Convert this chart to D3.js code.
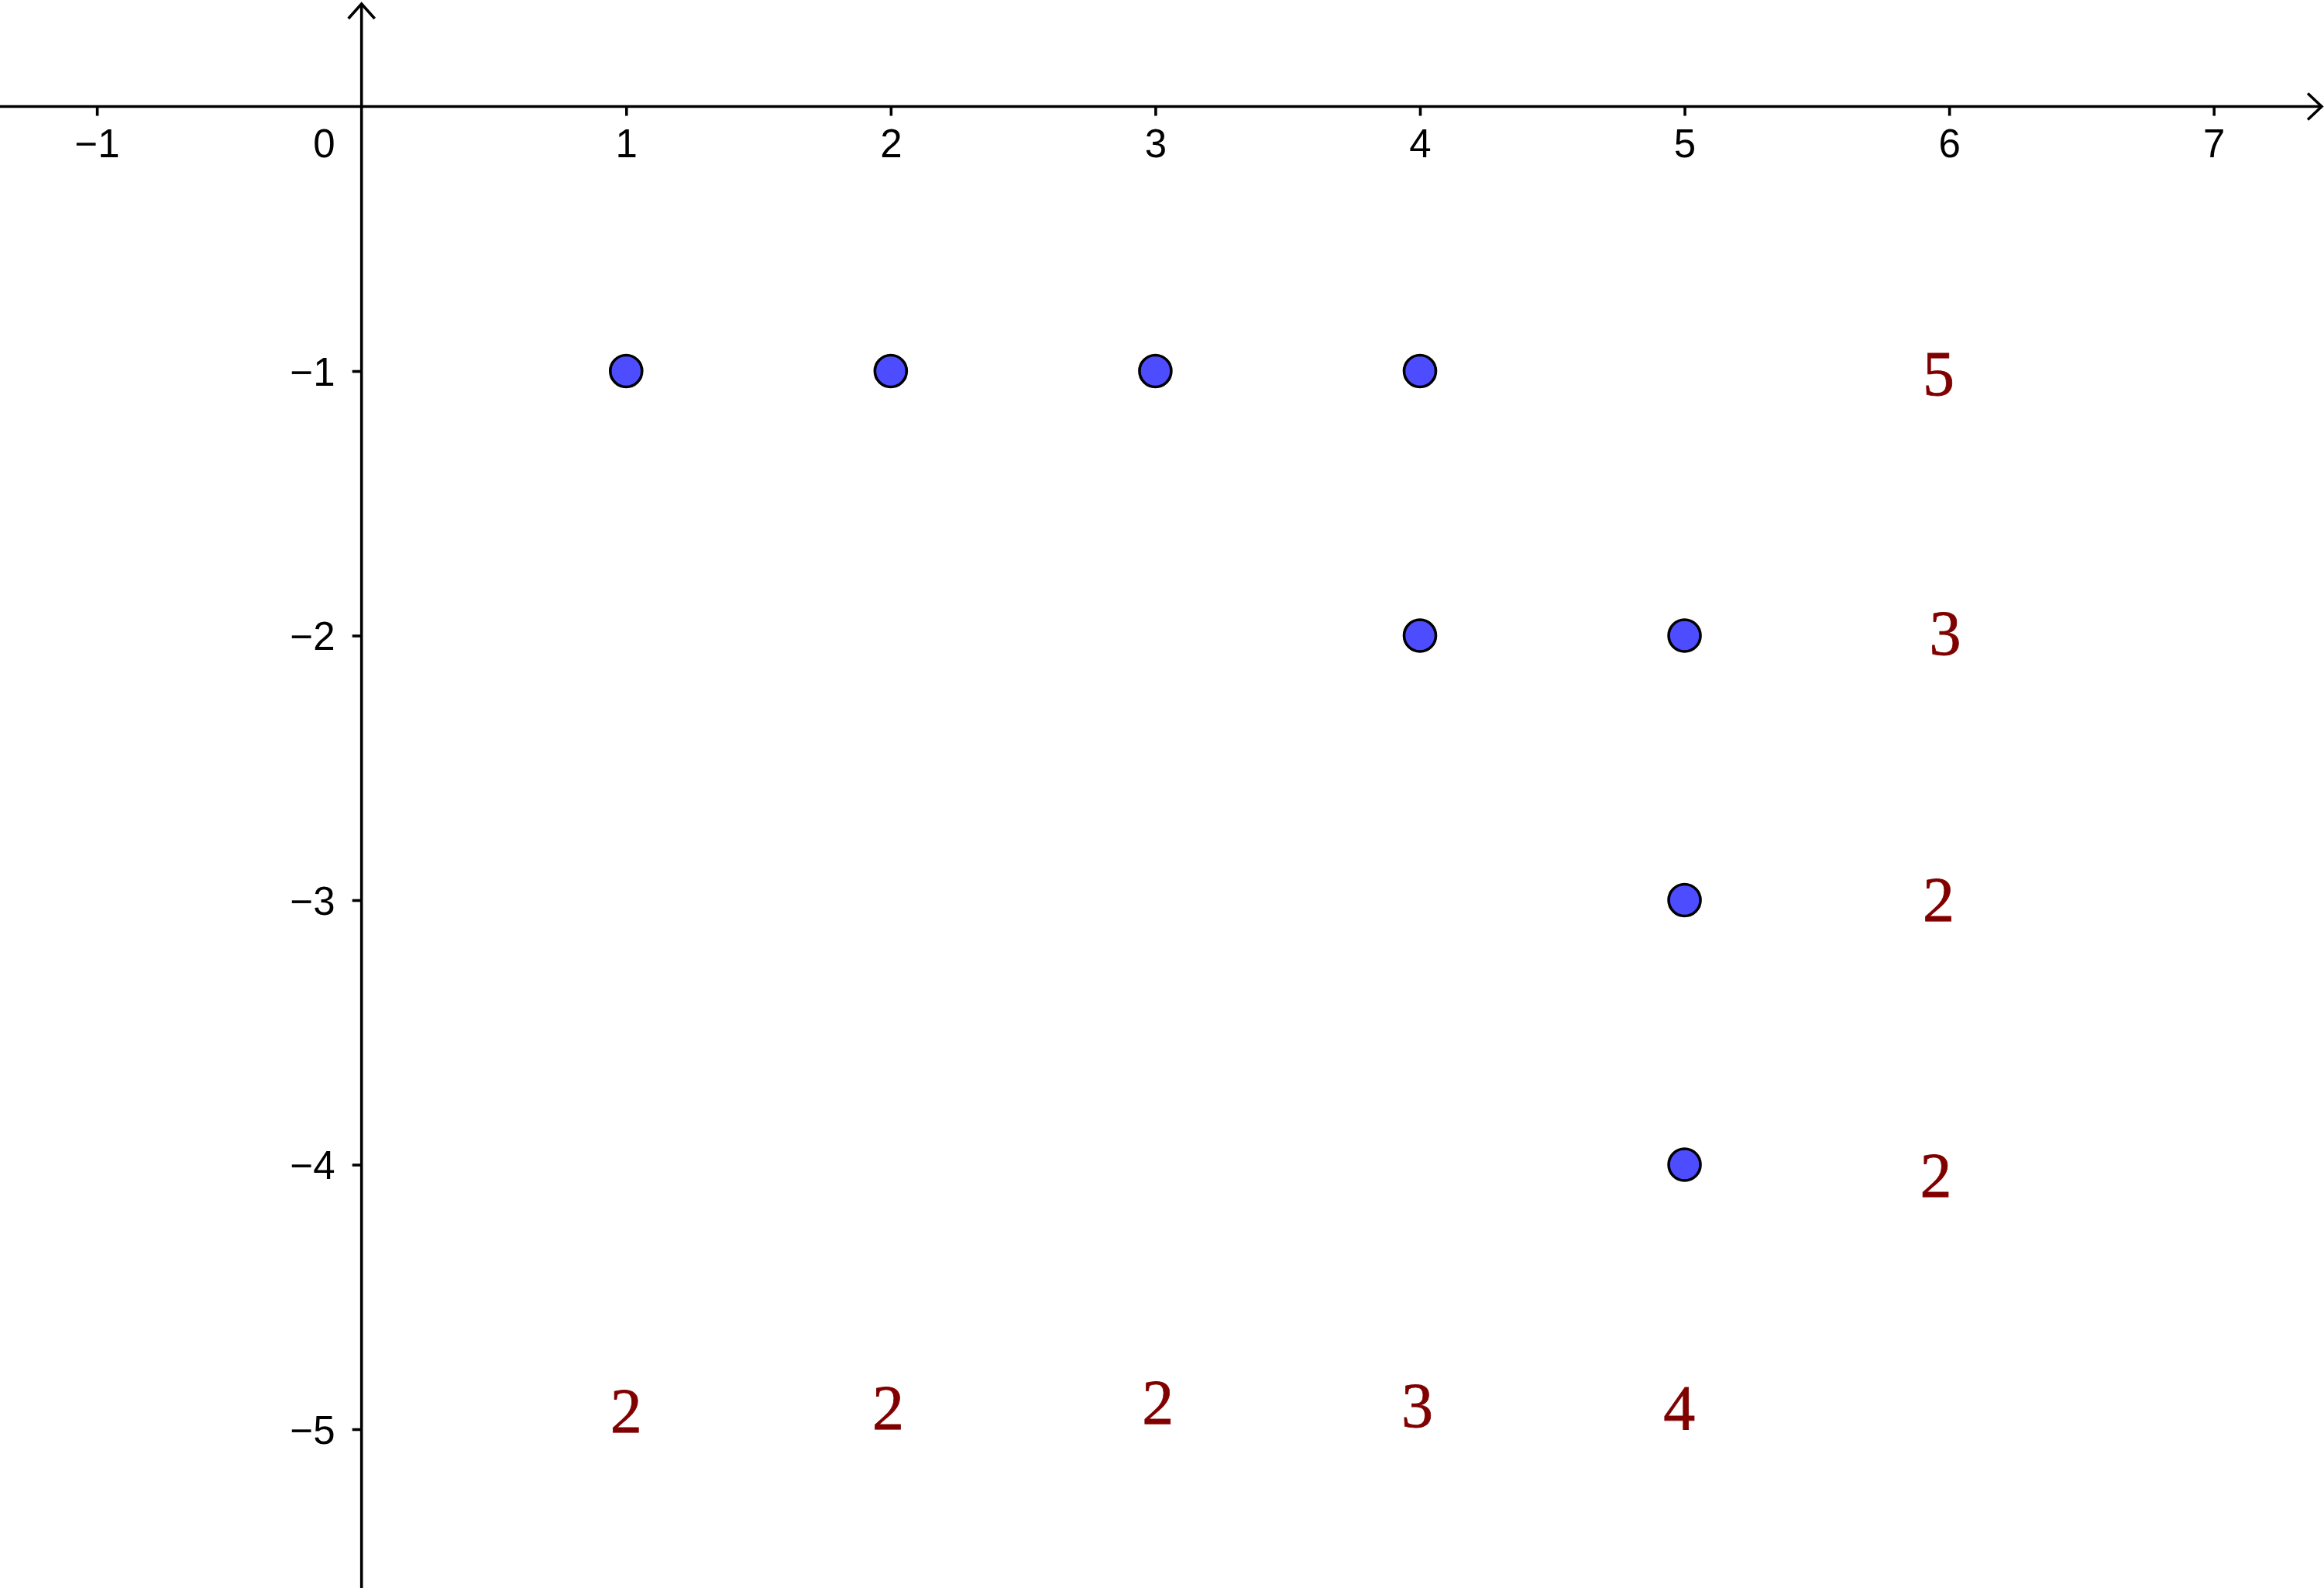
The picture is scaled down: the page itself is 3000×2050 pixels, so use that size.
<!DOCTYPE html>
<html>
<head>
<meta charset="utf-8">
<script src="https://cdn.jsdelivr.net/npm/d3@7"></script>
<style>
  html, body { margin: 0; padding: 0; background: #fff; }
  svg { display: block; }
</style>
</head>
<body>
<svg id="chart" width="3000" height="2050"></svg>
<script>
// ---- data ----
const xTickValues = [-1, 1, 2, 3, 4, 5, 6, 7];
const yTickValues = [-1, -2, -3, -4, -5];

const pointX = [1, 2, 3, 4, 4, 5, 5, 5];
const pointY = [-1, -1, -1, -1, -2, -2, -3, -4];

const rowLabels = ["5", "3", "2", "2"];
const rowLabelX = [5.96, 5.985, 5.96, 5.95];
const rowLabelY = [-1.01, -1.99, -3.0, -4.04];

const colLabels = ["2", "2", "2", "3", "4"];
const colLabelX = [1.0, 1.99, 3.01, 3.99, 4.98];
const colLabelY = [-4.93, -4.92, -4.90, -4.91, -4.92];

// ---- scales ----
const W = 3000, H = 2050;
const x = d3.scaleLinear().domain([0, 7]).range([466.7, 2857.7]);
const y = d3.scaleLinear().domain([0, -5]).range([137.5, 1845]);

const svg = d3.select("#chart");
const x0 = x(0), y0 = y(0);
const minus = s => String(s).replace("-", "\u2212");
const sansFont = "'Liberation Sans', Arial, sans-serif";

// ---- axes lines with open arrowheads ----
const axisG = svg.append("g").attr("stroke", "#000").attr("stroke-width", 3.6).attr("fill", "none")
  .attr("stroke-linecap", "butt").attr("stroke-linejoin", "miter");
axisG.append("line").attr("x1", 0).attr("y1", y0).attr("x2", W - 3).attr("y2", y0);
axisG.append("path").attr("d", `M${W - 21},${y0 - 17} L${W - 3},${y0} L${W - 21},${y0 + 17}`);
axisG.append("line").attr("x1", x0).attr("y1", H).attr("x2", x0).attr("y2", 5);
axisG.append("path").attr("d", `M${x0 - 17},${24} L${x0},${5} L${x0 + 17},${24}`);

// ---- x axis ticks & labels ----
const xAxis = d3.axisBottom(x).tickValues(xTickValues).tickSize(12).tickFormat(d => minus(d));
const gx = svg.append("g").attr("transform", `translate(0,${y0})`).call(xAxis);
gx.select(".domain").remove();
gx.selectAll(".tick line").attr("stroke", "#000").attr("stroke-width", 3.6);
gx.selectAll(".tick text")
  .attr("y", 65.5).attr("dy", null)
  .attr("font-family", sansFont)
  .attr("font-size", 51).attr("fill", "#000");
// origin label
svg.append("text").attr("x", x0 - 34).attr("y", y0 + 65.5)
  .attr("text-anchor", "end")
  .attr("font-family", sansFont)
  .attr("font-size", 51).attr("fill", "#000").text("0");

// ---- y axis ticks & labels ----
const yAxis = d3.axisLeft(y).tickValues(yTickValues).tickSize(12).tickFormat(d => minus(d));
const gy = svg.append("g").attr("transform", `translate(${x0},0)`).call(yAxis);
gy.select(".domain").remove();
gy.selectAll(".tick line").attr("stroke", "#000").attr("stroke-width", 3.6);
gy.selectAll(".tick text")
  .attr("x", -34).attr("dy", null).attr("y", 18)
  .attr("text-anchor", "end")
  .attr("font-family", sansFont)
  .attr("font-size", 51).attr("fill", "#000");

// ---- points ----
svg.append("g").selectAll("circle")
  .data(pointX.map((v, i) => ({ x: v, y: pointY[i] })))
  .join("circle")
  .attr("cx", d => x(d.x)).attr("cy", d => y(d.y))
  .attr("r", 20.5)
  .attr("fill", "rgb(77,77,255)")
  .attr("stroke", "#000").attr("stroke-width", 3.6);

// ---- red count labels ----
const labelFont = "'Liberation Serif', 'Times New Roman', serif";
const labelSize = 82;
const allLabels = rowLabels.map((t, i) => ({ t, x: rowLabelX[i], y: rowLabelY[i] }))
  .concat(colLabels.map((t, i) => ({ t, x: colLabelX[i], y: colLabelY[i] })));
svg.append("g").selectAll("text")
  .data(allLabels)
  .join("text")
  .attr("x", d => x(d.x))
  .attr("y", d => y(d.y) + labelSize * 0.335)
  .attr("text-anchor", "middle")
  .attr("font-family", labelFont)
  .attr("font-size", labelSize)
  .attr("fill", "#800000")
  .attr("stroke", "#800000").attr("stroke-width", 0.8)
  .text(d => d.t);
</script>
</body>
</html>
